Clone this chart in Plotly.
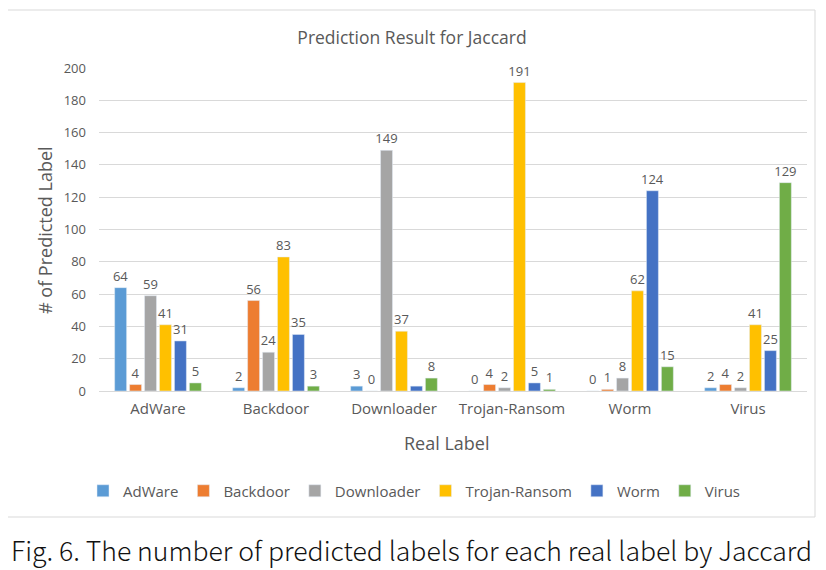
import plotly.graph_objects as go

categories = ["AdWare", "Backdoor", "Downloader", "Trojan-Ransom", "Worm", "Virus"]
series_names = ["AdWare", "Backdoor", "Downloader", "Trojan-Ransom", "Worm", "Virus"]
adware = [64, 2, 3, 0, 0, 2]
backdoor = [4, 56, 0, 4, 1, 4]
downloader = [59, 24, 149, 2, 8, 2]
trojan = [41, 83, 37, 191, 62, 41]
worm = [31, 35, 3, 5, 124, 25]
virus = [5, 3, 8, 1, 15, 129]
hidden_labels = {("Worm", "Downloader")}
colors = ["#5B9BD5", "#ED7D31", "#A5A5A5", "#FFC000", "#4472C4", "#70AD47"]
y_ticks = list(range(0, 201, 20))

series = [adware, backdoor, downloader, trojan, worm, virus]

# the page body adds an 8px offset; work in reference pixel coordinates
OFF = 8
W, H = 826 - OFF, 570 - OFF
X0, X1, Y0, Y1 = 99, 807, 68, 391  # plot area in reference pixels
L, R, T, B = X0 - OFF, W - (X1 - OFF), Y0 - OFF, H - (Y1 - OFF)
pw, ph = X1 - X0, Y1 - Y0

def px(x):
    return (x - X0) / pw

def py(y):
    return (Y1 - y) / ph

FONT = "Open Sans, Noto Sans, sans-serif"
GRAY = "#595959"

fig = go.Figure()
for name, vals, col in zip(series_names, series, colors):
    texts = ["" if (name, c) in hidden_labels else str(v) for c, v in zip(categories, vals)]
    fig.add_trace(go.Bar(
        x=categories, y=vals, name=name, marker_color=col,
        text=texts, textposition="outside", cliponaxis=False, constraintext="none",
        textfont=dict(size=13, color=GRAY, family=FONT),
    ))

fig.update_layout(
    width=W, height=H,
    margin=dict(l=L, r=R, t=T, b=B),
    paper_bgcolor="white", plot_bgcolor="white",
    barmode="group", bargap=0.24, bargroupgap=0.2,
    font=dict(family=FONT, color=GRAY),
    showlegend=True,
    legend=dict(orientation="h", x=px(414), xanchor="center", y=py(491), yanchor="middle",
                font=dict(size=15, color=GRAY, family=FONT), itemwidth=30, traceorder="normal"),
    title=dict(text="Prediction Result for Jaccard", x=(412 - OFF) / W, xanchor="center",
               y=1 - (38 - OFF) / H, yanchor="middle", font=dict(size=17.5, color=GRAY, family=FONT)),
)
fig.update_yaxes(range=[0, 200], tickvals=y_ticks, showgrid=True, gridcolor="#D9D9D9", gridwidth=1,
                 zeroline=False, showline=False, ticks="", tickfont=dict(size=13, color=GRAY, family=FONT),
                 ticklabelstandoff=12)
fig.update_xaxes(showline=True, linecolor="#D9D9D9", linewidth=1, ticks="",
                 tickfont=dict(size=15, color=GRAY, family=FONT), ticklabelstandoff=4)

fig.add_annotation(text="# of Predicted Label", textangle=-90, xref="paper", yref="paper",
                   x=px(45), y=py(230), showarrow=False, xanchor="center", yanchor="middle",
                   font=dict(size=18, color=GRAY, family=FONT))
fig.add_annotation(text="Real Label", xref="paper", yref="paper", x=px(447), y=py(443),
                   showarrow=False, xanchor="center", yanchor="middle",
                   font=dict(size=18, color=GRAY, family=FONT))
fig.add_annotation(text="Fig. 6. The number of predicted labels for each real label by Jaccard",
                   xref="paper", yref="paper", x=px(9), y=py(549), showarrow=False,
                   xanchor="left", yanchor="middle",
                   font=dict(size=26.6, color="#111111", weight=300,
                             family="Noto Sans CJK KR, DejaVu Sans, sans-serif"))
fig.add_shape(type="rect", xref="paper", yref="paper", x0=px(7), x1=px(815), y0=py(517), y1=py(10),
              line=dict(color="#D9D9D9", width=1), fillcolor="rgba(0,0,0,0)", layer="below")

fig.write_html("out.html")
